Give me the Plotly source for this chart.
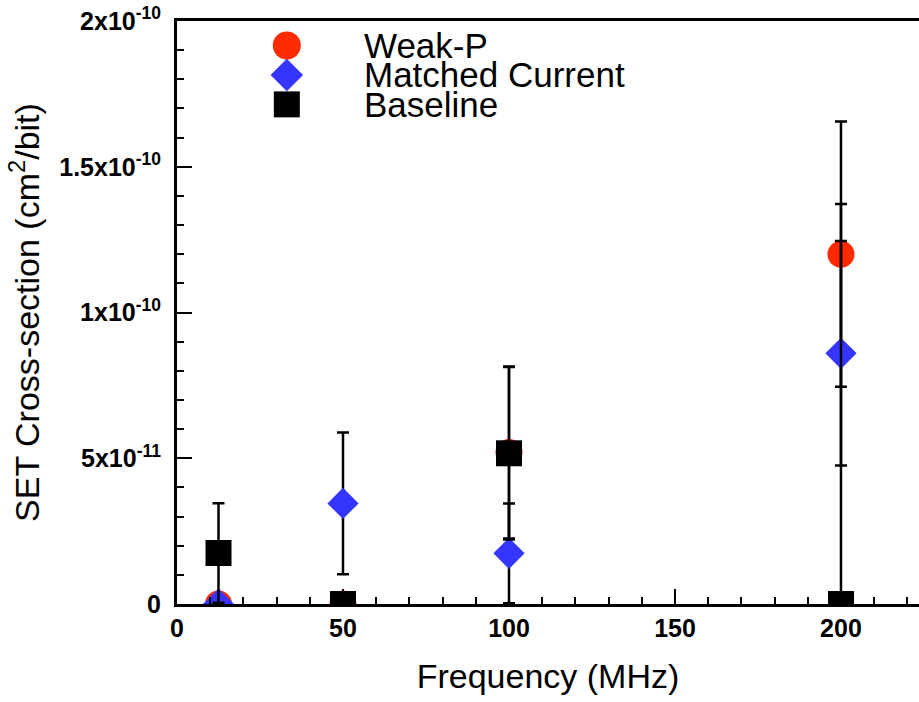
import plotly.graph_objects as go

# ---- data ----
freq = [12.5, 50, 100, 200]
weak_p = [0.0, 0.0, 5.2e-11, 1.2e-10]
weak_p_err = [0.0, 0.0, 2.95e-11, 4.55e-11]
matched = [0.0, 3.45e-11, 1.74e-11, 8.6e-11]
matched_err = [0.0, 2.43e-11, 1.71e-11, 3.85e-11]
baseline = [1.75e-11, 0.0, 5.17e-11, 0.0]
baseline_err = [1.71e-11, 0.0, 2.96e-11, 1.372e-10]

series_names = ["Weak-P", "Matched Current", "Baseline"]
x_tickvals = [0, 50, 100, 150, 200]
y_tickvals = [0, 5e-11, 1e-10, 1.5e-10, 2e-10]
y_ticktext = ["0", "5x10<sup>-11</sup>", "1x10<sup>-10</sup>",
              "1.5x10<sup>-10</sup>", "2x10<sup>-10</sup>"]

# ---- styles ----
FONT = "Liberation Sans, Arial, Helvetica, sans-serif"
colors = ["#ff2a00", "#3535ff", "#000000"]
symbols = ["circle", "diamond", "square"]
sizes = [27, 24, 26]

fig = go.Figure()
for name, y, e, c, s, sz in zip(series_names, [weak_p, matched, baseline],
                                [weak_p_err, matched_err, baseline_err],
                                colors, symbols, sizes):
    fig.add_trace(go.Scatter(
        x=freq, y=y, mode="markers", name=name, showlegend=False,
        marker=dict(color=c, symbol=s, size=sz, opacity=1, line=dict(width=0)),
        error_y=dict(type="data", array=e, visible=True, color="black",
                     thickness=2.5, width=6),
    ))

# ---- custom legend (large symbols, tight rows) ----
LEG_X_SYM = 0.148
LEG_X_TXT = 0.249
LEG_Y0 = 0.958
LEG_DY = 0.0505
leg_y = [LEG_Y0 - i * LEG_DY for i in range(len(series_names))]
fig.add_trace(go.Scatter(
    x=[LEG_X_SYM] * len(series_names), y=leg_y, mode="markers",
    xaxis="x2", yaxis="y2", showlegend=False, hoverinfo="skip",
    cliponaxis=False,
    marker=dict(color=colors, symbol=symbols, size=[28, 25, 26], opacity=1,
                line=dict(width=0)),
))
for name, yy in zip(series_names, leg_y):
    fig.add_annotation(x=LEG_X_TXT, y=yy, xref="paper", yref="paper",
                       text=name, showarrow=False, xanchor="left", yanchor="middle",
                       font=dict(family=FONT, size=35, color="black"))

axis_common = dict(
    showline=True, linecolor="black", linewidth=3,
    ticks="inside", ticklen=15, tickwidth=2, tickcolor="black",
    showgrid=False, zeroline=False, automargin=False,
    tickfont=dict(family=FONT, size=25, color="black", weight="bold"),
)

fig.update_layout(
    width=919, height=702,
    margin=dict(l=177, r=0, t=21, b=98),
    paper_bgcolor="white", plot_bgcolor="white",
    font=dict(family=FONT, color="black"),
    xaxis=dict(
        range=[0, 223.5], tickmode="array", tickvals=x_tickvals,
        mirror=True, ticklabelstandoff=0,
        minor=dict(dtick=10, tick0=0, ticks="inside", ticklen=7, tickwidth=2, tickcolor="black"),
        title=dict(text="Frequency (MHz)", font=dict(family=FONT, size=34, color="black"),
                   standoff=24),
        **axis_common,
    ),
    yaxis=dict(
        range=[0, 2e-10], tickmode="array", tickvals=y_tickvals, ticktext=y_ticktext,
        ticklabelstandoff=8,
        minor=dict(dtick=1e-11, tick0=0, ticks="inside", ticklen=7, tickwidth=2, tickcolor="black"),
        title=dict(text="SET Cross-section (cm<sup>2</sup>/bit)",
                   font=dict(family=FONT, size=34, color="black"), standoff=10),
        **axis_common,
    ),
    xaxis2=dict(domain=[0, 1], range=[0, 1], anchor="y2", visible=False, overlaying="x"),
    yaxis2=dict(domain=[0, 1], range=[0, 1], anchor="x2", visible=False, overlaying="y"),
)

fig.write_html("out.html", config={"displayModeBar": False},
               post_script="document.body.style.margin='0';document.body.style.overflow='hidden';")
